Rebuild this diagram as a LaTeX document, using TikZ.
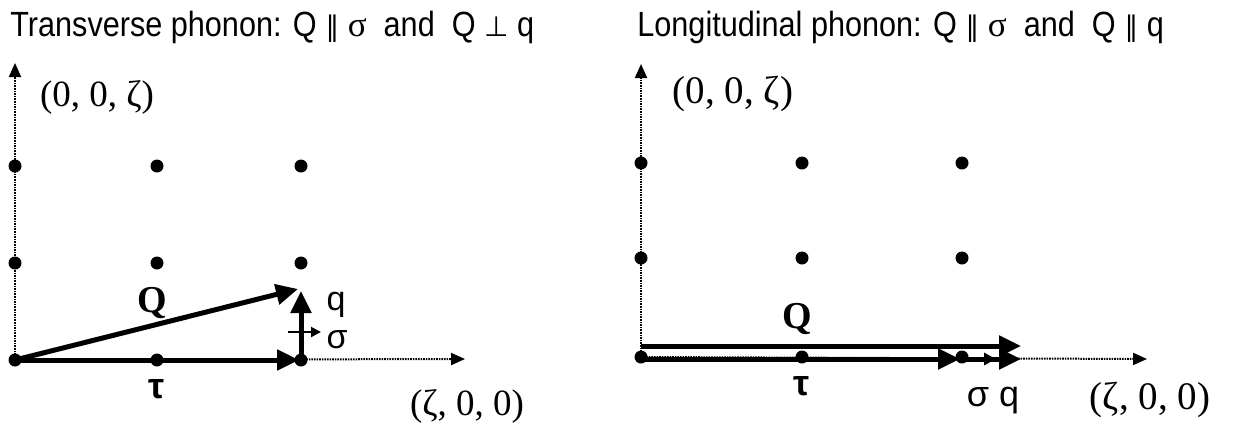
\documentclass[tikz,border=0pt]{standalone}
\usepackage{fontspec}
\setmainfont{Liberation Serif}
\setsansfont{Liberation Sans}
\newfontfamily\djv{DejaVu Sans}
\newfontfamily\titlefont[FakeStretch=0.875]{Liberation Sans}
\newfontfamily\titleserif{Liberation Serif}
\usetikzlibrary{arrows.meta}
\newcommand{\parsym}{{\djv\fontsize{14}{14}\selectfont ∥}}
\newcommand{\perpsym}{{\djv\fontsize{14}{14}\selectfont ⊥}}
\begin{document}
\begin{tikzpicture}[x=0.5pt,y=-0.5pt,
  dot/.style={circle,fill=black,inner sep=0pt,minimum size=6.5pt},
  axis/.style={line width=1pt,dash pattern=on 0.8pt off 0.5pt,-{Triangle[length=7pt,width=6pt]}},
  vec/.style={line width=2.5pt,-{Triangle[length=11pt,width=10pt]}},
  smallvec/.style={line width=1pt,-{Triangle[length=5pt,width=5pt]}},
  title/.style={font=\titlefont\fontsize{17.5}{20}\selectfont,anchor=base west,inner sep=0pt},
  coordlab/.style={font=\fontsize{#1}{22}\selectfont,inner sep=0pt},
  boldlab/.style={font=\bfseries\fontsize{#1}{22}\selectfont,inner sep=0pt},
  sanslab/.style={font=\sffamily\fontsize{#1}{22}\selectfont,inner sep=0pt},
  boldsans/.style={font=\sffamily\bfseries\fontsize{#1}{22}\selectfont,inner sep=0pt}]
\useasboundingbox (0,0) rectangle (1234,430);

% titles
\node[title] (t1) at (10,36) {Transverse phonon: Q \parsym\ {\titleserif σ}\ \ and\ \ Q \perpsym\ q};
\node[title] (t2) at (637,36) {Longitudinal phonon: Q \parsym\ {\titleserif σ}\ \ and\ \ Q \parsym\ q};

% ---------- left panel ----------
\node[dot] (a00) at (15,360) {};
\node[dot] (a10) at (157,360) {};
\node[dot] (a20) at (301,360) {};
\node[dot] (a01) at (15,263) {};
\node[dot] (a11) at (157,263) {};
\node[dot] (a21) at (301,263) {};
\node[dot] (a02) at (15,166) {};
\node[dot] (a12) at (157,166) {};
\node[dot] (a22) at (301,166) {};
\coordinate (ax) at (465,359);
\coordinate (ay) at (15,63);
\draw[axis] (a00.center) -- (ax);
\draw[axis] (a00.center) -- (ay);
\coordinate (aQ) at (298,289);
\coordinate (aq) at (301,291);
\coordinate (as1) at (288,332);
\coordinate (as2) at (321,332);
\draw[vec] (a00.center) -- (aQ);
\draw[vec] (a00.center) -- ([xshift=-1]a20.center);
\draw[vec] (a20.center) -- (aq);
\draw[smallvec] (as1) -- (as2);
\node[coordlab=18.5] (la) at (97,97) {(0, 0, ζ)};
\node[coordlab=18.5] (lb) at (467,406) {(ζ, 0, 0)};
\node[boldlab=19] (lQ) at (152,303) {Q};
\node[boldsans=18] (lt) at (157,389) {τ};
\node[sanslab=17] (lq) at (336,305) {q};
\node[sanslab=17] (ls) at (337,340) {σ};

% ---------- right panel ----------
\node[dot] (b00) at (641,357) {};
\node[dot] (b10) at (802,357) {};
\node[dot] (b20) at (962,357) {};
\node[dot] (b01) at (641,258) {};
\node[dot] (b11) at (802,258) {};
\node[dot] (b21) at (962,258) {};
\node[dot] (b02) at (641,163) {};
\node[dot] (b12) at (802,163) {};
\node[dot] (b22) at (962,163) {};
\coordinate (bx) at (1147,359);
\coordinate (by) at (641,64);
\draw[axis] (b00.center) -- (bx);
\draw[axis] (b00.center) -- (by);
\coordinate (bQ1) at (641,346);
\coordinate (bQ2) at (1021,346);
\coordinate (bt1) at (641,359);
\coordinate (bt2) at (960,359);
\coordinate (bs0) at (962,359);
\coordinate (bs) at (996,359);
\coordinate (bq) at (1021,359);
\draw[vec] (bQ1) -- (bQ2);
\draw[vec] (bs0) -- (bq);
\draw[smallvec,line width=2pt,-{Triangle[length=6pt,width=6pt]}] (bs0) -- (bs);
\draw[vec] (bt1) -- (bt2);
\node[coordlab=19.5] (ra) at (733,94) {(0, 0, ζ)};
\node[coordlab=19.5] (rb) at (1150,400) {(ζ, 0, 0)};
\node[boldlab=19] (rQ) at (797,319) {Q};
\node[boldsans=18] (rt) at (802,386) {τ};
\node[sanslab=18] (rsq) at (993,401) {σ q};
\end{tikzpicture}
\end{document}
